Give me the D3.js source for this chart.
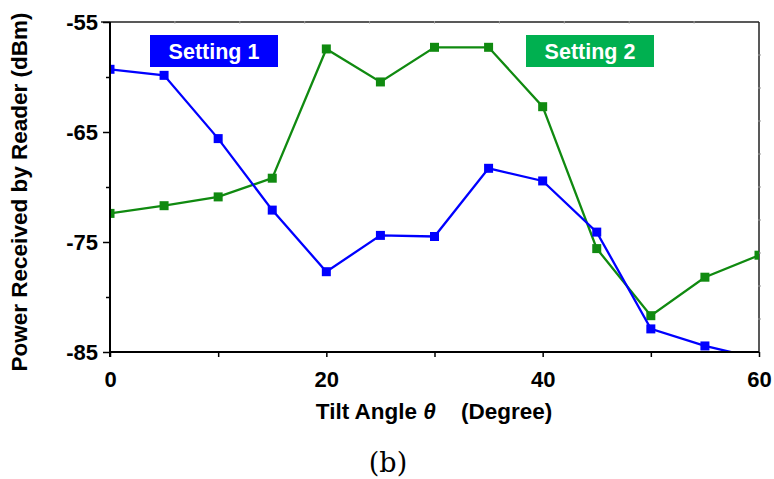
<!DOCTYPE html>
<html><head><meta charset="utf-8">
<script src="https://cdn.jsdelivr.net/npm/d3@7"></script>
<style>body{margin:0;background:#fff}svg{display:block}</style>
</head><body>
<svg id="c" width="774" height="479"></svg>
<script>
const angles = [0,5,10,15,20,25,30,35,40,45,50,55,60];
const setting1 = [-59.3,-59.85,-65.6,-72.1,-77.7,-74.4,-74.5,-68.3,-69.45,-74.1,-82.9,-84.45,-85.6];
const setting2 = [-72.4,-71.7,-70.9,-69.2,-57.45,-60.45,-57.3,-57.3,-62.7,-75.6,-81.7,-78.2,-76.2];
const xTicks = [0,10,20,30,40,50,60];
const xTickLabels = ["0","","20","","40","","60"];
const yTicks = [-55,-60,-65,-70,-75,-80,-85];
const yTickLabels = ["-55","","-65","","-75","","-85"];
const seriesNames = ["Setting 1","Setting 2"];

const svg = d3.select("#c");
const L=110,R=759,T=22,B=352;
const x = d3.scaleLinear().domain([0,60]).range([L,R]);
const y = d3.scaleLinear().domain([-85,-55]).range([B,T]);
const font = "Arial, 'Liberation Sans', sans-serif";

// frame top/right (light)
svg.append("line").attr("x1",101).attr("x2",R).attr("y1",T).attr("y2",T).attr("stroke","#222").attr("stroke-width",1.5);
svg.append("line").attr("x1",R).attr("x2",R).attr("y1",T).attr("y2",B).attr("stroke","#222").attr("stroke-width",1.5);
d3.range(1,10).forEach(i=>{
  const px = L + (R-L)*i/10;
  svg.append("line").attr("x1",px).attr("x2",px).attr("y1",T-1).attr("y2",T+1.5).attr("stroke","#999").attr("stroke-width",1);
  const py = T + (B-T)*i/10;
  svg.append("line").attr("x1",R-1).attr("x2",R+2).attr("y1",py).attr("y2",py).attr("stroke","#999").attr("stroke-width",1);
});

const defs = svg.append("defs");
defs.append("clipPath").attr("id","clip").append("rect").attr("x",L).attr("y",T).attr("width",R-L).attr("height",B-T);

const g = svg.append("g").attr("clip-path","url(#clip)");
function drawSeries(vals,color){
  const pts = angles.map((a,i)=>[a,vals[i]]);
  g.append("path").datum(pts).attr("fill","none").attr("stroke",color).attr("stroke-width",2.3)
    .attr("d",d3.line().x(d=>x(d[0])).y(d=>y(d[1])));
  g.selectAll(null).data(pts).enter().append("rect")
    .attr("x",d=>x(d[0])-4.5).attr("y",d=>y(d[1])-4.5).attr("width",9).attr("height",9).attr("fill",color);
}
drawSeries(setting2,"#108a10");
drawSeries(setting1,"#0000ff");

// axes
const xAxis = d3.axisBottom(x).tickValues(xTicks).tickSize(5).tickFormat((d,i)=>xTickLabels[i]);
const gx = svg.append("g").attr("transform",`translate(0,${B})`).call(xAxis);
gx.select(".domain").attr("d",`M${L},0H${R}`).attr("stroke","#000").attr("stroke-width",2);
gx.selectAll(".tick line").attr("stroke","#000").attr("stroke-width",1.5);
gx.selectAll(".tick text").attr("font-family",font).attr("font-weight","bold").attr("font-size",22).attr("dy","0").attr("y",35).attr("fill","#000");

const yAxis = d3.axisLeft(y).tickValues(yTicks).tickSize(7).tickFormat((d,i)=>yTickLabels[i]);
const gy = svg.append("g").attr("transform",`translate(${L},0)`).call(yAxis);
gy.select(".domain").attr("d",`M0,${B+5}V${T}`).attr("stroke","#000").attr("stroke-width",2);
gy.selectAll(".tick line").attr("stroke","#000").attr("stroke-width",1.5);
gy.selectAll(".tick line").filter((d,i)=>yTickLabels[i]==="").attr("x2",-4);
gy.selectAll(".tick text").attr("font-family",font).attr("font-weight","bold").attr("font-size",22).attr("x",-12).attr("dy","0.36em").attr("fill","#000");

// legend boxes
const legends = [{name:seriesNames[0],x0:150,x1:278,fill:"#0000ff"},{name:seriesNames[1],x0:526,x1:654,fill:"#00b050"}];
legends.forEach(l=>{
  svg.append("rect").attr("x",l.x0).attr("y",35).attr("width",l.x1-l.x0).attr("height",32).attr("fill",l.fill);
  svg.append("text").attr("x",(l.x0+l.x1)/2).attr("y",59).attr("text-anchor","middle")
    .attr("font-family",font).attr("font-weight","bold").attr("font-size",21.5).attr("fill","#fff").text(l.name);
});

// axis titles
svg.append("text").attr("transform","translate(27,192) rotate(-90)").attr("text-anchor","middle")
  .attr("font-family",font).attr("font-weight","bold").attr("font-size",22.5).attr("fill","#000")
  .text("Power Received by Reader (dBm)");
const xt = svg.append("text").attr("x",434).attr("y",419).attr("text-anchor","middle")
  .attr("font-family",font).attr("font-weight","bold").attr("font-size",22.5).attr("fill","#000");
xt.append("tspan").text("Tilt Angle ");
xt.append("tspan").attr("font-style","italic").text("θ");
xt.append("tspan").text("\u00a0\u00a0\u00a0 (Degree)");

svg.append("text").attr("x",388).attr("y",472).attr("text-anchor","middle")
  .attr("font-family","'DejaVu Serif', 'Liberation Serif', serif").attr("font-size",27).attr("fill","#000").text("(b)");
</script>
</body></html>
